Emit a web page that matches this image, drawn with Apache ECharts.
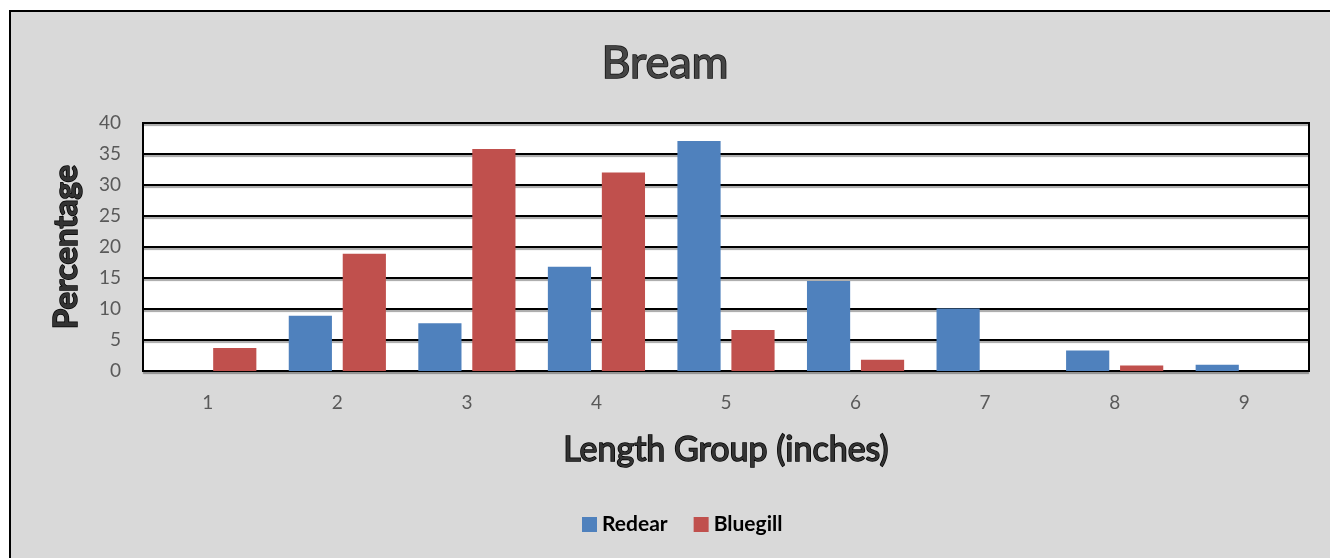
<!DOCTYPE html>
<html>
<head>
<meta charset="utf-8">
<script src="https://cdn.jsdelivr.net/npm/echarts@6/dist/echarts.min.js"></script>
<style>
  html, body { margin: 0; padding: 0; background: #fff; overflow: hidden; }
  #frame {
    position: absolute; left: 9px; top: 10px;
    width: 1330px; height: 560px;
    border-left: 2px solid #000; border-top: 2px solid #000;
    background: #d9d9d9;
  }
  #chart { position: absolute; left: -11px; top: -12px; width: 1330px; height: 558px; }
</style>
</head>
<body>
<div id="frame"><div id="chart"></div></div>
<script>
const categories = ['1', '2', '3', '4', '5', '6', '7', '8', '9']
const redear = [0, 8.9, 7.7, 16.8, 37.1, 14.5, 10.1, 3.3, 1.0]
const bluegill = [3.7, 18.9, 35.8, 32.0, 6.6, 1.8, 0, 0.9, 0]
const yTicks = [0, 5, 10, 15, 20, 25, 30, 35, 40]

const font = 'Lato, "Open Sans", sans-serif'

const chart = echarts.init(document.getElementById('chart'))
chart.setOption({
    backgroundColor: 'transparent',
    color: ['#4f81bd', '#c0504d'],
    title: {
        text: 'Bream',
        left: 'center',
        top: 36,
        textStyle: {
            fontFamily: font,
            fontSize: 45,
            fontWeight: 'normal',
            color: '#454545',
            textBorderColor: '#111',
            textBorderWidth: 1.5
        }
    },
    legend: {
        bottom: 18,
        left: 577,
        itemWidth: 15,
        itemHeight: 15,
        itemGap: 26,
        icon: 'rect',
        textStyle: {
            fontFamily: font,
            fontSize: 21,
            fontWeight: 'bold',
            color: '#000'
        },
        data: ['Redear', 'Bluegill']
    },
    grid: {
        left: 143,
        right: 21,
        top: 123,
        bottom: 187,
        show: true,
        backgroundColor: '#fff',
        borderColor: '#000',
        borderWidth: 2
    },
    xAxis: {
        type: 'category',
        data: categories,
        name: 'Length Group (inches)',
        nameLocation: 'middle',
        nameGap: 62,
        nameTextStyle: {
            fontFamily: font,
            fontSize: 34,
            color: '#333',
            textBorderColor: '#000',
            textBorderWidth: 1.5
        },
        axisLine: { show: true, lineStyle: { color: '#000', width: 2 } },
        axisTick: { show: false },
        axisLabel: {
            fontFamily: font,
            fontSize: 19,
            color: '#595959',
            margin: 22
        }
    },
    yAxis: {
        type: 'value',
        min: 0,
        max: 40,
        interval: 5,
        name: 'Percentage',
        nameLocation: 'middle',
        nameGap: 60,
        nameTextStyle: {
            fontFamily: font,
            fontSize: 33,
            fontWeight: 'bold',
            color: '#333',
            textBorderColor: '#000',
            textBorderWidth: 1.5
        },
        axisLine: { show: true, lineStyle: { color: '#000', width: 2 } },
        axisTick: { show: false },
        axisLabel: {
            fontFamily: font,
            fontSize: 19,
            color: '#595959',
            margin: 22,
            formatter: v => yTicks.includes(v) ? String(v) : ''
        },
        splitLine: {
            lineStyle: {
                color: '#000',
                width: 2,
                shadowColor: 'rgba(0, 0, 0, 0.35)',
                shadowOffsetY: 2,
                shadowBlur: 1
            }
        }
    },
    series: [
        {
            name: 'Redear',
            type: 'bar',
            data: redear,
            barGap: '25%',
            barCategoryGap: '25%'
        },
        {
            name: 'Bluegill',
            type: 'bar',
            data: bluegill
        }
    ]
})

window.addEventListener('resize', () => {
    chart.resize()
})
</script>
</body>
</html>
